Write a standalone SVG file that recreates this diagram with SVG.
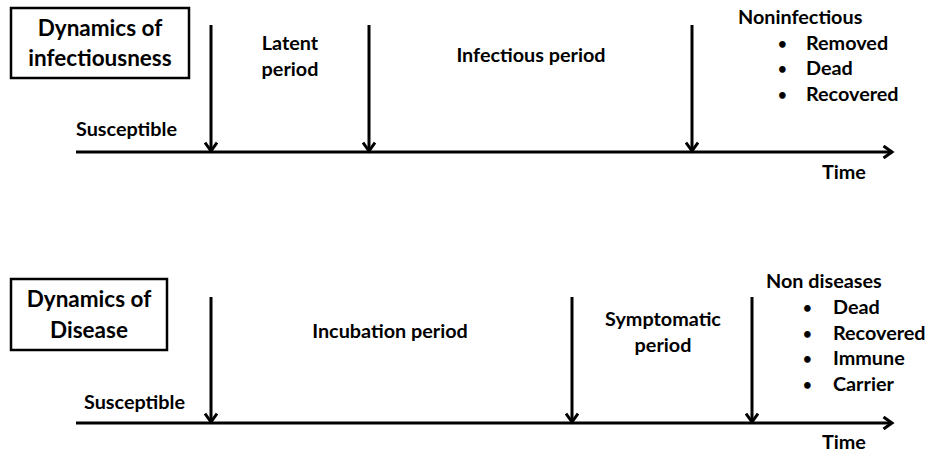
<svg xmlns="http://www.w3.org/2000/svg" width="926" height="456" viewBox="0 0 926 456">
  <style>
    text { font-family: Lato, "Open Sans", "Liberation Sans", sans-serif; font-weight: bold; fill: #000; }
    .lbl { font-size: 19.8px; }
    .bul { font-size: 15px; }
    .title { font-size: 22.5px; }
    .mid { text-anchor: middle; }
    .box { fill: #fff; stroke: #000; stroke-width: 2.5; }
    .axis, .tick { stroke: #000; stroke-width: 3; fill: none; }
  </style>
  <defs>
    <marker id="chev" viewBox="0 0 14 14" refX="11.5" refY="7" markerWidth="14" markerHeight="14" markerUnits="userSpaceOnUse" orient="auto">
      <path d="M3 1 L11.5 7 L3 13" fill="none" stroke="#000" stroke-width="3"/>
    </marker>
  </defs>
  <rect width="926" height="456" fill="#fff"/>

  <!-- Timeline 1: infectiousness -->
  <g id="title-infectiousness">
    <rect class="box" x="11" y="8" width="178" height="70"/>
    <text class="title mid" x="100" y="36">Dynamics of</text>
    <text class="title mid" x="100" y="66">infectiousness</text>
  </g>
  <g id="connectors-top">
    <line class="axis" x1="76" y1="152" x2="892" y2="152" marker-end="url(#chev)"/>
    <line class="tick" x1="211" y1="25" x2="211" y2="151" marker-end="url(#chev)"/>
    <line class="tick" x1="369" y1="25" x2="369" y2="151" marker-end="url(#chev)"/>
    <line class="tick" x1="692" y1="25" x2="692" y2="151" marker-end="url(#chev)"/>
  </g>
  <g id="susceptible-top"><text class="lbl" x="76" y="136">Susceptible</text></g>
  <g id="latent"><text class="lbl mid" x="290" y="50">Latent</text><text class="lbl mid" x="290" y="76">period</text></g>
  <g id="infectious"><text class="lbl mid" x="531" y="62">Infectious period</text></g>
  <g id="noninfectious">
    <text class="lbl" x="738" y="24">Noninfectious</text>
    <text class="bul" x="778" y="49">•</text><text class="lbl" x="806" y="50">Removed</text>
    <text class="bul" x="778" y="74">•</text><text class="lbl" x="806" y="75">Dead</text>
    <text class="bul" x="778" y="100">•</text><text class="lbl" x="806" y="101">Recovered</text>
  </g>
  <g id="time-top"><text class="lbl" x="822" y="179">Time</text></g>

  <!-- Timeline 2: disease -->
  <g id="title-disease">
    <rect class="box" x="11" y="279" width="156" height="71"/>
    <text class="title mid" x="89" y="307">Dynamics of</text>
    <text class="title mid" x="89" y="338">Disease</text>
  </g>
  <g id="connectors-bottom">
    <line class="axis" x1="76" y1="423" x2="892" y2="423" marker-end="url(#chev)"/>
    <line class="tick" x1="211" y1="297" x2="211" y2="422" marker-end="url(#chev)"/>
    <line class="tick" x1="572" y1="297" x2="572" y2="422" marker-end="url(#chev)"/>
    <line class="tick" x1="752" y1="297" x2="752" y2="422" marker-end="url(#chev)"/>
  </g>
  <g id="susceptible-bottom"><text class="lbl" x="84" y="409">Susceptible</text></g>
  <g id="incubation"><text class="lbl mid" x="390" y="338">Incubation period</text></g>
  <g id="symptomatic"><text class="lbl mid" x="663" y="326">Symptomatic</text><text class="lbl mid" x="663" y="352">period</text></g>
  <g id="non-diseases">
    <text class="lbl" x="766" y="288">Non diseases</text>
    <text class="bul" x="803" y="313">•</text><text class="lbl" x="833" y="314">Dead</text>
    <text class="bul" x="803" y="339">•</text><text class="lbl" x="833" y="340">Recovered</text>
    <text class="bul" x="803" y="364">•</text><text class="lbl" x="833" y="365">Immune</text>
    <text class="bul" x="803" y="390">•</text><text class="lbl" x="833" y="391">Carrier</text>
  </g>
  <g id="time-bottom"><text class="lbl" x="822" y="449">Time</text></g>
</svg>
